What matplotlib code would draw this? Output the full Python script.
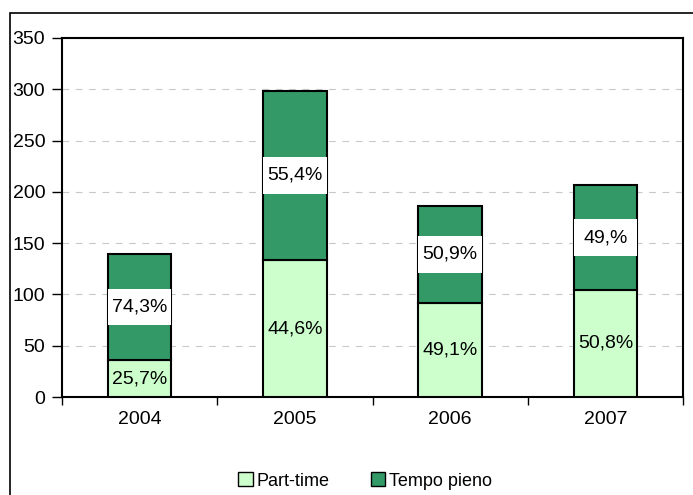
import matplotlib
matplotlib.use("Agg")
import matplotlib.pyplot as plt
from matplotlib.patches import Rectangle
import numpy as np

years = ["2004", "2005", "2006", "2007"]
part_time = [36, 133.5, 92, 104.5]
tempo_pieno = [103.5, 165, 94, 102]
part_labels = ["25,7%", "44,6%", "49,1%", "50,8%"]
full_labels = ["74,3%", "55,4%", "50,9%", "49,%"]

plt.rcParams['font.family'] = ['Liberation Sans', 'DejaVu Sans']

fig = plt.figure(figsize=(6.93, 4.95), dpi=100)
ax = fig.add_axes([62/693, 98/495, 621/693, 359/495])

# outer frame
fig.patches.append(Rectangle((9.5/693, -0.05), 1.0, 1 - 13/495 + 0.05,
                             transform=fig.transFigure, fill=False,
                             edgecolor='black', linewidth=1.2, zorder=0))

x = np.arange(len(years))
w = 0.41
light = '#CCFFCC'
dark = '#339966'
ax.bar(x, part_time, w, color=light, edgecolor='black', linewidth=1.5, label='Part-time', zorder=3)
top_bars = ax.bar(x, tempo_pieno, w, bottom=part_time, color=dark, edgecolor='black',
                  linewidth=1.5, label='Tempo pieno', zorder=3)

for i in range(len(years)):
    ax.text(x[i], part_time[i] / 2, part_labels[i], ha='center', va='center',
            fontsize=14, zorder=5)
    t = ax.text(x[i], part_time[i] + tempo_pieno[i] / 2, full_labels[i], ha='center',
                va='center', fontsize=14, zorder=5,
                bbox=dict(boxstyle='square,pad=0.5', facecolor='white', edgecolor='none'))
    t.set_clip_on(True)
    t.set_clip_path(top_bars[i])

ax.set_xlim(-0.5, 3.5)
ax.set_ylim(0, 350)
ax.set_yticks(np.arange(0, 351, 50))
ax.yaxis.grid(True, linestyle=(0, (6, 6)), color='#C8C8C8', linewidth=0.8, zorder=0)
ax.set_axisbelow(True)
ax.set_xticks(x)
ax.set_xticklabels(years, fontsize=14)
ax.tick_params(axis='x', which='major', length=0, pad=10)
ax.set_xticks(np.arange(-0.5, 3.6, 1), minor=True)
ax.tick_params(axis='x', which='minor', length=6, width=1, direction='out')
ax.tick_params(axis='y', length=7, width=1, direction='out', labelsize=14, pad=5)
for s in ax.spines.values():
    s.set_linewidth(1.5)

leg = fig.legend(loc='center', bbox_to_anchor=(365/693, 1 - 481/495), ncol=2, frameon=False,
                 fontsize=13, handlelength=0.8, handleheight=0.8, handletextpad=0.2,
                 columnspacing=2.3)
for h in leg.legend_handles:
    h.set_linewidth(1.0)

fig.savefig("out.png", dpi=100)
